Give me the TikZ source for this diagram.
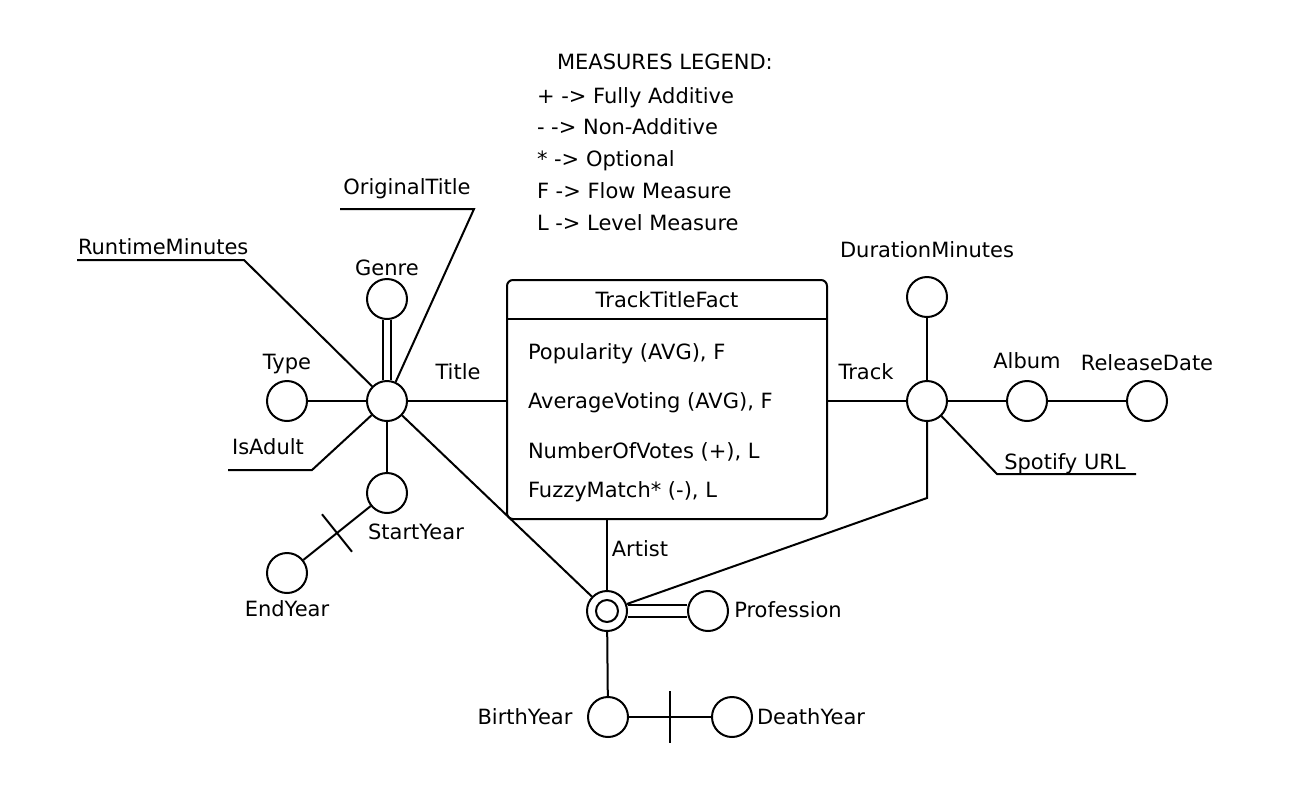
\documentclass[tikz,border=0pt]{standalone}
\usepackage{fontspec}
\setmainfont{DejaVu Sans}
\usetikzlibrary{calc}

\begin{document}
\begin{tikzpicture}[x=0.5pt,y=-0.5pt,line width=1pt,
    attr/.style={draw,circle,minimum size=20pt,inner sep=0pt},
    txt/.style={font=\fontsize{10.5}{12}\selectfont,inner sep=0pt,anchor=base}]
  \useasboundingbox (0,0) rectangle (1307,794);

  % legend
  \node[txt,anchor=base west] (leg) at (556,69) {MEASURES LEGEND:};
  \node[txt,anchor=base west] (leg1) at (536,103) {+ -> Fully Additive};
  \node[txt,anchor=base west] (leg2) at (536,134) {- -> Non-Additive};
  \node[txt,anchor=base west] (leg3) at (536,166) {* -> Optional};
  \node[txt,anchor=base west] (leg4) at (536,198) {F -> Flow Measure};
  \node[txt,anchor=base west] (leg5) at (536,230) {L -> Level Measure};

  % fact table
  \node[draw,rounded corners=3pt,minimum width=160pt,minimum height=119.5pt] (fact) at (667,399.5) {};
  \draw ($(fact.north west)+(0,40)$) -- ($(fact.north east)+(0,40)$);
  \node[txt] (factname) at (667,307) {TrackTitleFact};
  \node[txt,anchor=base west] (m1) at (527,359) {Popularity (AVG), F};
  \node[txt,anchor=base west] (m2) at (527,408) {AverageVoting (AVG), F};
  \node[txt,anchor=base west] (m3) at (527,458) {NumberOfVotes (+), L};
  \node[txt,anchor=base west] (m4) at (527,497) {FuzzyMatch* (-), L};

  % Title hierarchy
  \node[attr] (title) at (387,401) {};
  \node[attr] (genre) at (387,299) {};
  \node[attr] (type) at (287,401) {};
  \node[attr] (start) at (387,493) {};
  \node[attr] (end) at (287,573) {};
  \node[txt] at (458,379) {Title};
  \node[txt] at (387,275) {Genre};
  \node[txt] at (287,369) {Type};
  \node[txt] at (416,539) {StartYear};
  \node[txt] at (287,616) {EndYear};
  \node[txt] at (407,194) {OriginalTitle};
  \node[txt,anchor=base west] at (77,254) {RuntimeMinutes};
  \node[txt] at (268,454) {IsAdult};
  \coordinate (ot1) at (474,209);
  \coordinate (ot2) at (340,209);
  \coordinate (rt1) at (244,260);
  \coordinate (rt2) at (77,260);
  \coordinate (ia1) at (312,470);
  \coordinate (ia2) at (228,470);

  \draw (title) -- (title -| fact.west);
  \draw (title) -- (type);
  \draw[double,double distance=3pt] (genre) -- (title);
  \draw (title) -- (ot1) -- (ot2);
  \draw (title) -- (rt1) -- (rt2);
  \draw (title) -- (ia1) -- (ia2);
  \draw (title) -- (start);
  \draw (start) -- (end);
  \coordinate (sm) at ($(start)!0.5!(end)$);
  \draw ($(sm)!12pt!90:(end)$) -- ($(sm)!12pt!-90:(end)$);

  % Track hierarchy
  \node[attr] (track) at (927,401) {};
  \node[attr] (dur) at (927,297) {};
  \node[attr] (album) at (1027,401) {};
  \node[attr] (release) at (1147,401) {};
  \node[txt] at (866,379) {Track};
  \node[txt] at (927,257) {DurationMinutes};
  \node[txt] at (1027,368) {Album};
  \node[txt] at (1147,370) {ReleaseDate};
  \node[txt] at (1065,469) {Spotify URL};
  \coordinate (sp1) at (997,474);
  \coordinate (sp2) at (1136,474);
  \coordinate (tr1) at (930,498);

  \draw (fact.east |- track) -- (track);
  \draw (track) -- (dur);
  \draw (track) -- (album) -- (release);
  \draw (track) -- (sp1) -- (sp2);

  % Artist hierarchy
  \node[attr] (artist) at (607,611) {};
  \draw (artist.center) circle [radius=5.5pt];
  \node[attr] (prof) at (708,611) {};
  \node[attr] (birth) at (608,717) {};
  \node[attr] (death) at (732,717) {};
  \node[txt] at (640,556) {Artist};
  \node[txt] at (788,617) {Profession};
  \node[txt] at (525,724) {BirthYear};
  \node[txt] at (811,724) {DeathYear};

  \draw (fact.south -| artist) -- (artist);
  \draw (title) -- (artist);
  \draw (track) -- (track |- tr1) -- (artist);
  \draw[double,double distance=5pt] (artist) -- (prof);
  \draw (artist) -- (birth);
  \draw (birth) -- (death);
  \coordinate (bm) at ($(birth)!0.5!(death)$);
  \draw ($(bm)!13pt!90:(death)$) -- ($(bm)!13pt!-90:(death)$);
\end{tikzpicture}
\end{document}
